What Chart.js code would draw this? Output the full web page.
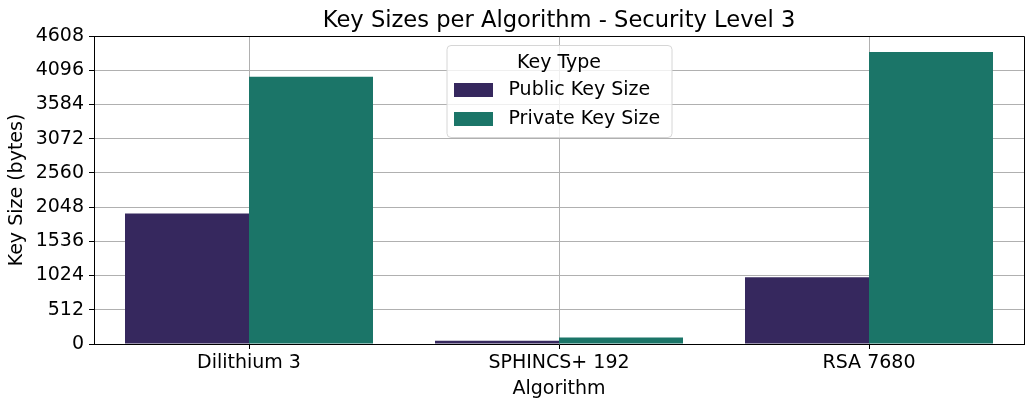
<!DOCTYPE html>
<html><head><meta charset="utf-8">
<script src="https://cdn.jsdelivr.net/npm/chart.js@4.4.1/dist/chart.umd.min.js"></script>
<style>html,body{margin:0;padding:0;background:#fff;}#wrap{width:1033px;height:407px;position:relative}</style>
</head><body><div id="wrap"><canvas id="c" width="1033" height="407"></canvas></div>
<script>
const categories = ['Dilithium 3', 'SPHINCS+ 192', 'RSA 7680'];
const publicKeySizes = [1952, 48, 1000];
const privateKeySizes = [4000, 96, 4370];
const seriesNames = ['Public Key Size', 'Private Key Size'];
const seriesColors = ['#36285e', '#1b7568'];
const yTickValues = [0, 512, 1024, 1536, 2048, 2560, 3072, 3584, 4096, 4608];
const chartTitle = 'Key Sizes per Algorithm - Security Level 3';
const legendTitle = 'Key Type';
const xTitle = 'Algorithm';
const yTitle = 'Key Size (bytes)';

const FONT = 'DejaVu Sans';

const decorPlugin = {
  id: 'decor',
  afterDraw(chart) {
    const ctx = chart.ctx;
    const ca = chart.chartArea;
    ctx.save();
    // top & right spines
    ctx.strokeStyle = '#000';
    ctx.lineWidth = 1;
    ctx.beginPath();
    ctx.moveTo(ca.left, ca.top + 0.5);
    ctx.lineTo(ca.right + 0.5, ca.top + 0.5);
    ctx.lineTo(ca.right + 0.5, ca.bottom);
    ctx.stroke();
    // title
    const cx = (ca.left + ca.right) / 2;
    ctx.fillStyle = '#000';
    ctx.font = '22.6px "' + FONT + '"';
    ctx.textAlign = 'center';
    ctx.textBaseline = 'middle';
    ctx.fillText(chartTitle, cx, 21);
    // legend
    const bw = 225, bh = 92;
    const bx = cx - bw / 2, by = ca.top + 9;
    ctx.beginPath();
    ctx.roundRect(bx + 0.5, by + 0.5, bw, bh, 4);
    ctx.fillStyle = 'rgba(255,255,255,0.8)';
    ctx.fill();
    ctx.strokeStyle = '#d6d6d6';
    ctx.stroke();
    ctx.fillStyle = '#000';
    ctx.font = '19px "' + FONT + '"';
    ctx.textAlign = 'center';
    ctx.fillText(legendTitle, cx, by + 18);
    const ds = chart.data.datasets;
    ds.forEach((d, i) => {
      const rowY = by + 45 + i * 29;
      ctx.fillStyle = d.backgroundColor;
      ctx.fillRect(bx + 7.5, rowY - 7, 39, 14);
      ctx.fillStyle = '#000';
      ctx.textAlign = 'left';
      ctx.fillText(d.label, bx + 62, rowY);
    });
    ctx.restore();
  }
};

new Chart(document.getElementById('c'), {
  type: 'bar',
  data: {
    labels: categories,
    datasets: [
      { label: seriesNames[0], data: publicKeySizes, backgroundColor: seriesColors[0] },
      { label: seriesNames[1], data: privateKeySizes, backgroundColor: seriesColors[1] }
    ]
  },
  options: {
    responsive: false,
    animation: false,
    devicePixelRatio: 1,
    layout: { padding: { top: 36, right: 9, left: 0, bottom: 0 } },
    datasets: { bar: { categoryPercentage: 0.8, barPercentage: 1.0 } },
    plugins: { legend: { display: false }, title: { display: false }, tooltip: { enabled: false } },
    scales: {
      x: {
        z: 1,
        afterFit(s) { s.height = 63; },
        grid: { offset: false, color: '#b0b0b0', lineWidth: 1, tickColor: '#000', tickLength: 5 },
        border: { color: '#000', width: 1 },
        ticks: { color: '#000', font: { family: FONT, size: 19 }, padding: 3, maxRotation: 0 },
        title: { display: true, text: xTitle, color: '#000', font: { family: FONT, size: 19 }, padding: { top: 0, bottom: 7 } }
      },
      y: {
        z: 1,
        min: yTickValues[0],
        max: yTickValues[yTickValues.length - 1],
        afterFit(s) { s.width = 94; },
        afterBuildTicks(s) { s.ticks = yTickValues.map(v => ({ value: v })); },
        grid: { color: '#b0b0b0', lineWidth: 1, tickColor: '#000', tickLength: 5 },
        border: { color: '#000', width: 1 },
        ticks: { color: '#000', font: { family: FONT, size: 19 }, padding: 5, callback: v => String(v) },
        title: { display: true, text: yTitle, color: '#000', font: { family: FONT, size: 19 }, padding: { top: 6, bottom: 0 } }
      }
    }
  },
  plugins: [decorPlugin]
});
</script>
</body></html>
